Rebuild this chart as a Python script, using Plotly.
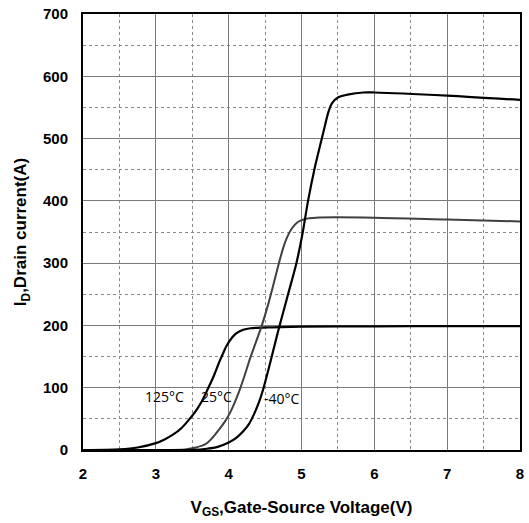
import plotly.graph_objects as go

# Data
vgs_125 = [2.0, 2.3, 2.5, 2.75, 3.0, 3.12, 3.24, 3.35, 3.45, 3.55, 3.63, 3.71, 3.8, 3.87, 3.93, 3.97, 4.05, 4.1,
           4.2, 4.3, 4.6, 5.0, 6.0, 7.0, 8.0]
id_125 = [0, 0.3, 1, 4, 11, 17, 25, 35, 48, 63, 78, 97, 120, 141, 157, 167, 181, 187,
          193, 195.5, 197, 198, 198.5, 199, 199]

vgs_25 = [2.0, 3.0, 3.4, 3.55, 3.69, 3.78, 3.87, 3.95, 4.02, 4.14, 4.22, 4.3, 4.45, 4.55, 4.62, 4.69,
          4.75, 4.8, 4.87, 4.95, 5.05, 5.2, 6.0, 7.0, 8.0]
id_25 = [0, 0.1, 1, 4, 10, 20, 33, 46, 60, 93, 120, 149, 198, 237, 268, 300,
         325, 341, 356, 366, 371, 373, 373, 370, 367]

vgs_m40 = [2.0, 3.5, 3.7, 3.85, 4.0, 4.1, 4.2, 4.28, 4.35, 4.42, 4.48, 4.57, 4.66, 4.7, 4.76, 4.82,
           4.93, 5.01, 5.09, 5.18, 5.3, 5.37, 5.42, 5.5, 5.65, 5.85, 6.0, 7.0, 8.0]
id_m40 = [0, 0.3, 2, 5, 12, 19, 30, 42, 58, 78, 100, 140, 182, 200, 226, 252,
          300, 345, 400, 452, 510, 543, 557, 566, 571, 574, 574, 569, 562]

labels = ["125°C", "25°C", "-40°C"]
label_x = [3.12, 3.83, 4.73]
label_y = [86, 86, 83]

x_ticks = [2, 3, 4, 5, 6, 7, 8]
y_ticks = [0, 100, 200, 300, 400, 500, 600, 700]

fig = go.Figure()
fig.add_trace(go.Scatter(x=vgs_125, y=id_125, mode="lines", line=dict(color="black", width=2.2, shape="spline", smoothing=0.8)))
fig.add_trace(go.Scatter(x=vgs_25, y=id_25, mode="lines", line=dict(color="#404040", width=2, shape="spline", smoothing=0.8)))
fig.add_trace(go.Scatter(x=vgs_m40, y=id_m40, mode="lines", line=dict(color="black", width=2.2, shape="spline", smoothing=0.8)))

for t, lx, ly in zip(labels, label_x, label_y):
    fig.add_annotation(x=lx, y=ly, text=t, showarrow=False,
                       font=dict(family="Open Sans, Noto Sans, sans-serif", size=14, color="black"))

fig.update_layout(
    width=529, height=523,
    margin=dict(l=83, r=5, t=14, b=73),
    plot_bgcolor="white", paper_bgcolor="white",
    showlegend=False,
    font=dict(family="Liberation Sans, Arial, sans-serif", color="black"),
)
fig.update_xaxes(
    range=[2, 8], tickvals=x_ticks, ticktext=[str(v) for v in x_ticks],
    showline=True, linecolor="black", linewidth=2, mirror=True,
    showgrid=True, gridcolor="#7a7a7a", gridwidth=1,
    minor=dict(dtick=0.5, showgrid=True, gridcolor="#8a8a8a", griddash="dot", gridwidth=1),
    tickfont=dict(size=15, family="Liberation Sans, Arial, sans-serif", weight="bold"),
    ticks="", ticklabelstandoff=9, zeroline=False,
    title=dict(text="V<sub>GS</sub>,Gate-Source Voltage(V)", standoff=20,
               font=dict(size=17, family="Liberation Sans, Arial, sans-serif", weight="bold")),
)
fig.update_yaxes(
    range=[0, 700], tickvals=y_ticks, ticktext=[str(v) for v in y_ticks],
    showline=True, linecolor="black", linewidth=2, mirror=True,
    showgrid=True, gridcolor="#7a7a7a", gridwidth=1,
    minor=dict(dtick=50, showgrid=True, gridcolor="#8a8a8a", griddash="dot", gridwidth=1),
    tickfont=dict(size=15, family="Liberation Sans, Arial, sans-serif", weight="bold"),
    ticks="", ticklabelstandoff=10, zeroline=False,
    title=dict(text="I<sub>D</sub>,Drain current(A)", standoff=12,
               font=dict(size=17, family="Liberation Sans, Arial, sans-serif", weight="bold")),
)

fig.write_html("out.html")
